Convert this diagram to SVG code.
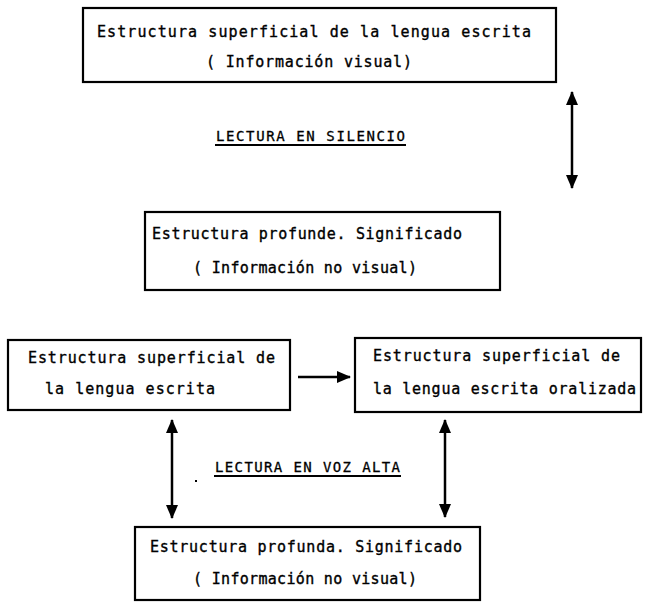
<svg xmlns="http://www.w3.org/2000/svg" width="650" height="602" viewBox="0 0 650 602">
<defs>
<marker id="ah" viewBox="0 0 14 12" refX="13" refY="6" markerWidth="14" markerHeight="12" markerUnits="userSpaceOnUse" orient="auto-start-reverse">
<path d="M0,0 L14,6 L0,12 Z" fill="#000"/>
</marker>
<style>
.box{fill:#fff;stroke:#000;stroke-width:2.2}
.t{font-family:"DejaVu Sans Mono","Liberation Mono",monospace;font-size:15px;fill:#000;stroke:#000;stroke-width:0.35}
.lbl{font-family:"DejaVu Sans Mono","Liberation Mono",monospace;font-size:14px;fill:#000;stroke:#000;stroke-width:0.3}
.c{stroke:#000;stroke-width:2.5;fill:none}
.u{stroke:#000;stroke-width:2;fill:none}
</style>
</defs>
<rect width="650" height="602" fill="#fff"/>

<g id="n1">
<rect class="box" x="83" y="8" width="473" height="74"/>
<text class="t" x="97" y="37" textLength="434" lengthAdjust="spacing">Estructura superficial de la lengua escrita</text>
<text class="t" x="206" y="67" textLength="206" lengthAdjust="spacing">( Información visual)</text>
</g>

<g id="n2">
<rect class="box" x="145" y="212" width="355" height="78"/>
<text class="t" x="152" y="239" textLength="310" lengthAdjust="spacing">Estructura profunde. Significado</text>
<text class="t" x="193" y="273" textLength="224" lengthAdjust="spacing">( Información no visual)</text>
</g>

<g id="n3">
<rect class="box" x="8" y="340" width="282" height="70"/>
<text class="t" x="28" y="363" textLength="247" lengthAdjust="spacing">Estructura superficial de</text>
<text class="t" x="45" y="394" textLength="170" lengthAdjust="spacing">la lengua escrita</text>
</g>

<g id="n4">
<rect class="box" x="355" y="338" width="286" height="74"/>
<text class="t" x="373" y="361" textLength="247" lengthAdjust="spacing">Estructura superficial de</text>
<text class="t" x="373" y="394" textLength="263" lengthAdjust="spacing">la lengua escrita oralizada</text>
</g>

<g id="n5">
<rect class="box" x="135" y="527" width="345" height="73"/>
<text class="t" x="150" y="552" textLength="312" lengthAdjust="spacing">Estructura profunda. Significado</text>
<text class="t" x="193" y="584" textLength="224" lengthAdjust="spacing">( Información no visual)</text>
</g>

<g id="labels">
<text class="lbl" x="216" y="141" textLength="189" lengthAdjust="spacing">LECTURA EN SILENCIO</text>
<line class="u" x1="215" y1="145" x2="406" y2="145"/>
<text class="lbl" x="215" y="472" textLength="185" lengthAdjust="spacing">LECTURA EN VOZ ALTA</text>
<line class="u" x1="214" y1="476" x2="401" y2="476"/>
<rect x="195" y="480" width="2" height="2" fill="#000"/>
</g>

<g id="connectors">
<line class="c" x1="572" y1="92" x2="572" y2="188" marker-start="url(#ah)" marker-end="url(#ah)"/>
<line class="c" x1="298" y1="377" x2="350" y2="377" marker-end="url(#ah)"/>
<line class="c" x1="172" y1="420" x2="172" y2="518" marker-start="url(#ah)" marker-end="url(#ah)"/>
<line class="c" x1="445" y1="420" x2="445" y2="517" marker-start="url(#ah)" marker-end="url(#ah)"/>
</g>
</svg>
